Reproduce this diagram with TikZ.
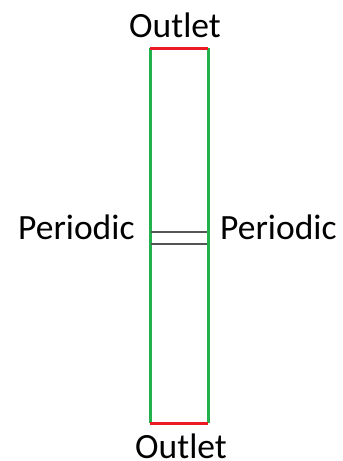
\documentclass[tikz,border=0pt]{standalone}
\usepackage{fontspec}
\setmainfont{Carlito}
\definecolor{wallgreen}{HTML}{22B14C}
\definecolor{outred}{HTML}{ED1C24}
\definecolor{pergray}{HTML}{555555}
\begin{document}
\begin{tikzpicture}[x=1pt,y=-1pt,
  lbl/.style={font=\fontsize{35.5}{38}\selectfont, inner sep=0pt},
  wall/.style={wallgreen, line width=3pt},
  outlet/.style={outred, line width=3pt},
  perline/.style={pergray, line width=1.2pt}]
\useasboundingbox (0,0) rectangle (343,461);
\coordinate (tl) at (150,48);
\coordinate (tr) at (208,48);
\coordinate (bl) at (150,423);
\coordinate (br) at (208,423);
\coordinate (p1l) at (151,232);
\coordinate (p1r) at (207,232);
\coordinate (p2l) at (151,244);
\coordinate (p2r) at (207,244);
\draw[wall] (tl) -- (bl);
\draw[wall] (tr) -- (br);
\draw[outlet] (tl) -- (tr);
\draw[outlet] (bl) -- (br);
\draw[perline] (p1l) -- (p1r);
\draw[perline] (p2l) -- (p2r);
\node[lbl, anchor=base] (otop) at (175,37) {Outlet};
\node[lbl, anchor=base] (obot) at (181,458) {Outlet};
\node[lbl, anchor=base west] (pl) at (18,239) {Periodic};
\node[lbl, anchor=base west] (pr) at (220,239) {Periodic};
\end{tikzpicture}
\end{document}
